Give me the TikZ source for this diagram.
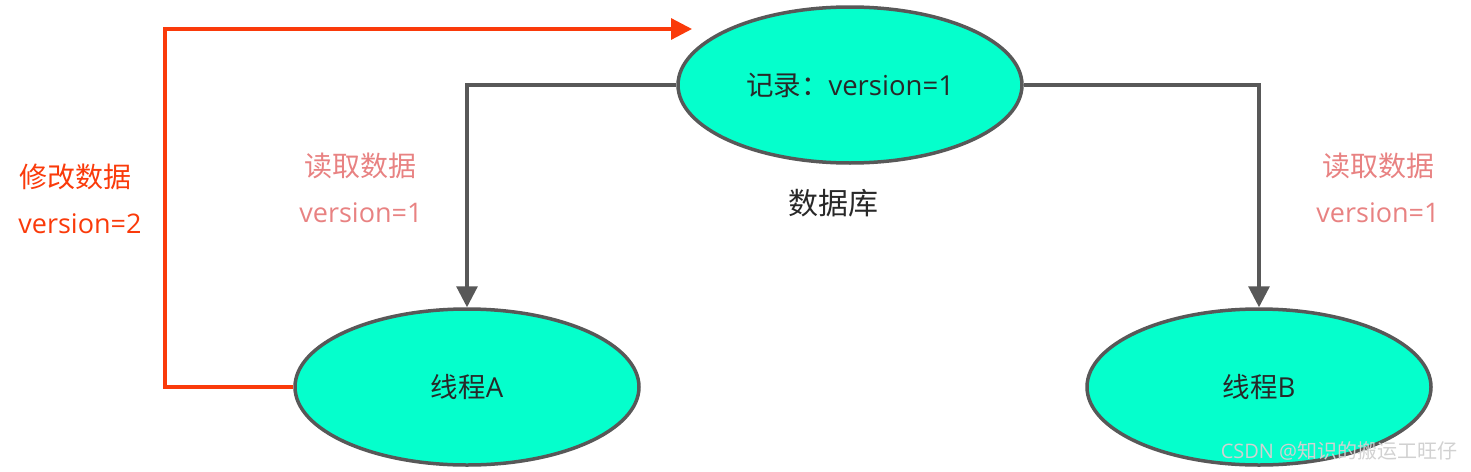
\documentclass[tikz,border=0pt]{standalone}
\usepackage{fontspec}
\setmainfont{Open Sans}
\newfontfamily\cjk{Noto Sans CJK SC}
\usetikzlibrary{shapes.geometric,arrows.meta}
\definecolor{fillc}{RGB}{5,255,204}
\definecolor{edgec}{RGB}{88,88,88}
\definecolor{redc}{RGB}{250,58,10}
\definecolor{pinkc}{RGB}{232,130,130}
\definecolor{txtc}{RGB}{40,40,40}
\tikzset{
  blob/.style={ellipse, draw=edgec, fill=fillc, line width=3.5pt, minimum width=344pt, minimum height=156pt, inner sep=0pt, text=txtc, font=\fontsize{27.5}{32}\selectfont},
  grayline/.style={draw=edgec, line width=3.2pt, -{Triangle[length=21pt,width=21pt]}},
  redline/.style={draw=redc, line width=3.2pt, -{Triangle[length=21pt,width=21pt]}},
  lbl/.style={inner sep=0pt, font=\fontsize{27}{32}\selectfont},
}
\begin{document}
\begin{tikzpicture}[x=1pt,y=-1pt]
\useasboundingbox (0,0) rectangle (1471,471);
\node[blob] (db) at (850,85) {{\cjk 记录：}version=1};
\node[blob] (ta) at (467,387) {{\cjk 线程}A};
\node[blob] (tb) at (1259,387) {{\cjk 线程}B};
\coordinate (corner) at (165,29);
\coordinate (rtip) at (692,29);
\draw[grayline] (db.west) -| (ta.north);
\draw[grayline] (db.east) -| (tb.north);
\draw[redline] (ta.west) -| (corner) -- (rtip);
\node[lbl, text=txtc, font=\fontsize{30}{34}\selectfont\cjk] (dbl) at (833,203) {数据库};
\node[lbl, text=pinkc, font=\fontsize{28}{32}\selectfont\cjk] (r1) at (360,166) {读取数据};
\node[lbl, text=pinkc] (v1) at (361,213) {version=1};
\node[lbl, text=pinkc, font=\fontsize{28}{32}\selectfont\cjk] (r2) at (1378,166) {读取数据};
\node[lbl, text=pinkc] (v2) at (1378,213) {version=1};
\node[lbl, text=redc, font=\fontsize{28}{32}\selectfont\cjk] (m1) at (75,177) {修改数据};
\node[lbl, text=redc] (m2) at (80,224) {version=2};
\node[lbl, text=black!18, font=\fontsize{20}{24}\selectfont] (wm) at (1339,451) {CSDN @{\cjk 知识的搬运工旺仔}};
\end{tikzpicture}
\end{document}
